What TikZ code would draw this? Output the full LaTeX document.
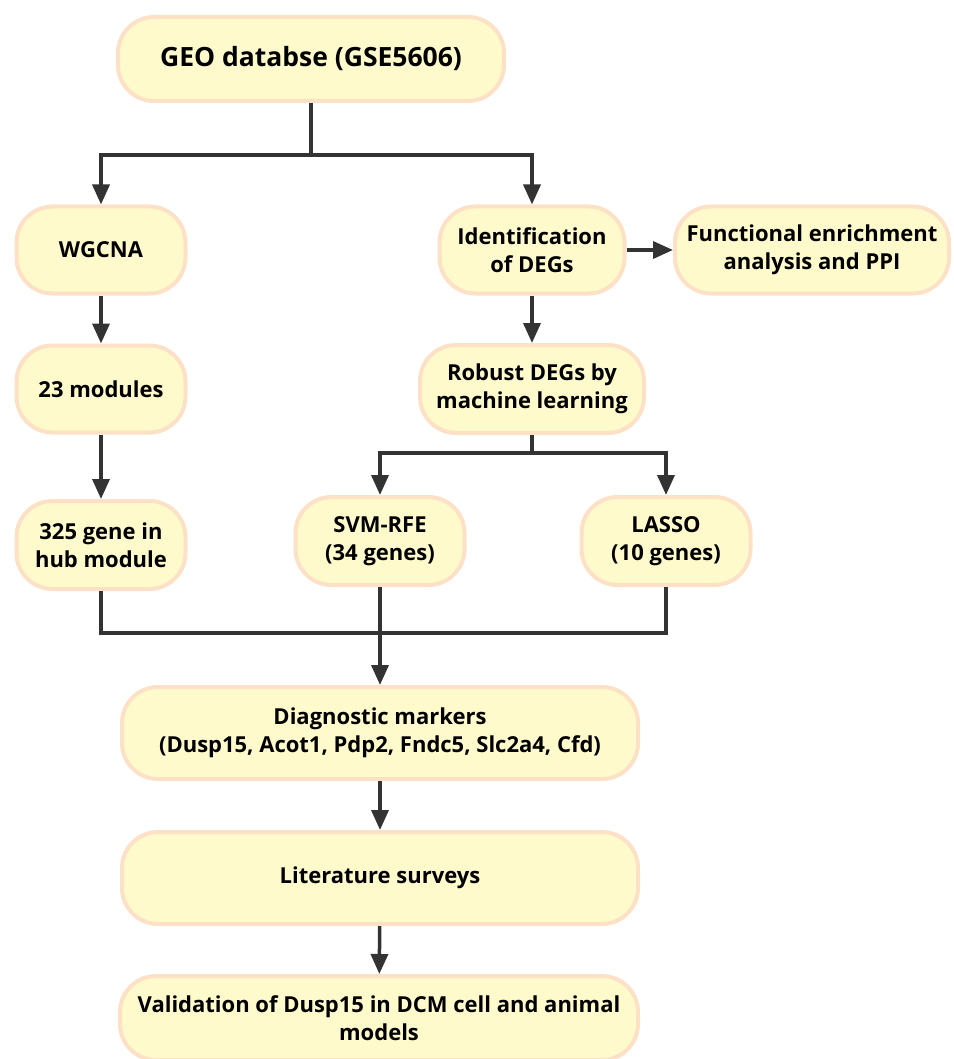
\documentclass[tikz,border=0pt]{standalone}
\usepackage{fontspec}
\setmainfont{Open Sans}
\usetikzlibrary{arrows.meta,positioning}
\definecolor{boxfill}{RGB}{255,250,204}
\definecolor{boxline}{RGB}{253,225,198}
\definecolor{linkgray}{RGB}{51,51,51}

\begin{document}
\begin{tikzpicture}[x=1pt, y=-1pt,
    stage/.style={rectangle, rounded corners=36pt, draw=boxline, line width=4pt, fill=boxfill,
        align=center, inner sep=0pt, font=\bfseries\fontsize{22}{28}\selectfont},
    link/.style={draw=linkgray, line width=3.5pt},
    flow/.style={link, -{Triangle[length=20pt,width=17pt]}},
]
    \clip (0,0) rectangle (953,1059);

    % Stages
    \node[stage, minimum width=386pt, minimum height=84pt, font=\bfseries\fontsize{26.5}{31}\selectfont] (geo) at (311,59) {GEO databse (GSE5606)};
    \node[stage, minimum width=169pt, minimum height=87pt] (wgcna) at (101,250) {WGCNA};
    \node[stage, minimum width=185pt, minimum height=87pt] (degs) at (532,250) {Identification\\of DEGs};
    \node[stage, minimum width=274pt, minimum height=87pt] (enrich) at (812,250) {Functional enrichment\\analysis and PPI};
    \node[stage, minimum width=169pt, minimum height=87pt] (modules) at (101,389) {23 modules};
    \node[stage, minimum width=224pt, minimum height=88pt] (robust) at (532,389) {Robust DEGs by\\machine learning};
    \node[stage, minimum width=169pt, minimum height=88pt] (hub) at (101,545) {325 gene in\\hub module};
    \node[stage, minimum width=169pt, minimum height=88pt] (svm) at (380,541) {SVM-RFE\\(34 genes)};
    \node[stage, minimum width=169pt, minimum height=88pt] (lasso) at (666,541) {LASSO\\(10 genes)};
    \node[stage, minimum width=516pt, minimum height=92pt] (markers) at (380,733) {Diagnostic markers\\(Dusp15, Acot1, Pdp2, Fndc5, Slc2a4, Cfd)};
    \node[stage, minimum width=516pt, minimum height=92pt] (survey) at (380,878) {Literature surveys};
    \node[stage, minimum width=518pt, minimum height=84pt] (valid) at (379,1018) {Validation of Dusp15 in DCM cell and animal\\models};

    % Split points
    \coordinate (split1) at (311,155);
    \coordinate (split2) at (532,453);
    \coordinate (merge) at (380,633);

    % Connectors
    \draw[link] (geo) -- (split1);
    \draw[flow] (split1) -| (wgcna);
    \draw[flow] (split1) -| (degs);
    \draw[flow] (degs) -- (enrich);
    \draw[flow] (wgcna) -- (modules);
    \draw[flow] (modules) -- (hub);
    \draw[flow] (degs) -- (robust);
    \draw[link] (robust) -- (split2);
    \draw[flow] (split2) -| (svm);
    \draw[flow] (split2) -| (lasso);
    \draw[link] (hub.south) |- (merge);
    \draw[link] (lasso.south) |- (merge);
    \draw[flow] (svm) -- (markers);
    \draw[flow] (markers) -- (survey);
    \draw[flow] (survey) -- (valid);
\end{tikzpicture}
\end{document}
